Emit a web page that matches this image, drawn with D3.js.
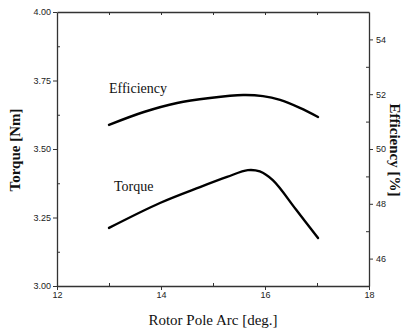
<!DOCTYPE html>
<html><head><meta charset="utf-8">
<script src="https://cdn.jsdelivr.net/npm/d3@7"></script>
<style>
body{margin:0;background:#fff;}
svg{display:block;}
.tick text{font-family:"Liberation Sans Narrow","Liberation Sans",Arial,sans-serif;font-size:9px;fill:#222;}
</style></head>
<body>
<svg id="c" width="405" height="332"></svg>
<script>
// Data
const torqueX = [13.0, 13.98, 14.75, 15.27, 15.67, 15.9, 16.15, 16.6, 17.02];
const torque  = [3.212, 3.303, 3.361, 3.398, 3.423, 3.418, 3.386, 3.278, 3.175];
const effX = [13.0, 13.67, 14.31, 14.94, 15.58, 15.96, 16.29, 16.67, 17.02];
const efficiency = [50.88, 51.35, 51.68, 51.86, 51.97, 51.93, 51.79, 51.50, 51.17];
const xTicks = [12, 14, 16, 18];
const torqueTicks = [3.00, 3.25, 3.50, 3.75, 4.00];
const effTicks = [46, 48, 50, 52, 54];

const svg = d3.select("#c");
const L = 57, R = 369, T = 12, B = 286;
const x = d3.scaleLinear().domain([12, 18]).range([L, R]);
const yT = d3.scaleLinear().domain([3.0, 4.0]).range([B, T]);
const yE = d3.scaleLinear().domain([45, 55]).range([B, T]);

const axisColor = "#333";
function styleAxis(g){
  g.select(".domain").attr("stroke", axisColor).attr("stroke-width", 1.3);
  g.selectAll(".tick line").attr("stroke", axisColor);
}
function minor(g, axisGen){ g.call(axisGen); g.select(".domain").remove(); g.selectAll("text").remove(); g.selectAll("line").attr("stroke", axisColor);}

// bottom
svg.append("g").attr("transform", `translate(0,${B})`)
  .call(d3.axisBottom(x).tickValues(xTicks).tickFormat(d3.format("d")).tickSize(4).tickSizeOuter(0).tickPadding(2))
  .call(styleAxis);
svg.append("g").attr("transform", `translate(0,${B})`)
  .call(g => minor(g, d3.axisTop(x).tickValues([13,15,17]).tickSize(3)));
// top
svg.append("g").attr("transform", `translate(0,${T})`)
  .call(d3.axisBottom(x).tickValues([13,14,15,16,17]).tickFormat("").tickSize(3).tickSizeOuter(0))
  .call(styleAxis);
// left
svg.append("g").attr("transform", `translate(${L},0)`)
  .call(d3.axisLeft(yT).tickValues(torqueTicks).tickFormat(d3.format(".2f")).tickSize(4).tickSizeOuter(0).tickPadding(2))
  .call(styleAxis);
svg.append("g").attr("transform", `translate(${L},0)`)
  .call(g => minor(g, d3.axisRight(yT).tickValues([3.125,3.375,3.625,3.875]).tickSize(3)));
// right
svg.append("g").attr("transform", `translate(${R},0)`)
  .call(d3.axisRight(yE).tickValues(effTicks).tickFormat(d3.format("d")).tickSize(4).tickSizeOuter(0).tickPadding(3))
  .call(styleAxis);
svg.append("g").attr("transform", `translate(${R},0)`)
  .call(g => minor(g, d3.axisLeft(yE).tickValues([47,49,51,53]).tickSize(3)));

// curves
const lineT = d3.line().x((d,i)=>x(torqueX[i])).y(d=>yT(d)).curve(d3.curveCatmullRom.alpha(0.5));
const lineE = d3.line().x((d,i)=>x(effX[i])).y(d=>yE(d)).curve(d3.curveCatmullRom.alpha(0.5));
svg.append("path").datum(torque).attr("d", lineT).attr("fill","none").attr("stroke","#000").attr("stroke-width",2.4).attr("stroke-linecap","round");
svg.append("path").datum(efficiency).attr("d", lineE).attr("fill","none").attr("stroke","#000").attr("stroke-width",2.4).attr("stroke-linecap","round");

// curve labels
const serif = "'Liberation Serif','Times New Roman',serif";
svg.append("text").attr("x", 109).attr("y", 93).attr("font-family", serif).attr("font-size", 14).attr("fill","#111").text("Efficiency");
svg.append("text").attr("x", 114).attr("y", 191).attr("font-family", serif).attr("font-size", 14).attr("fill","#111").text("Torque");

// axis titles
svg.append("text").attr("transform", "translate(20,150) rotate(-90)").attr("text-anchor","middle")
  .attr("font-family", serif).attr("font-size", 15).attr("font-weight","bold").attr("fill","#111").text("Torque [Nm]");
svg.append("text").attr("transform", "translate(390,150) rotate(90)").attr("text-anchor","middle")
  .attr("font-family", serif).attr("font-size", 15).attr("font-weight","bold").attr("fill","#111").text("Efficiency [%]");
svg.append("text").attr("x", 213).attr("y", 325).attr("text-anchor","middle")
  .attr("font-family", serif).attr("font-size", 15).attr("fill","#111").text("Rotor Pole Arc [deg.]");
</script>
</body></html>
